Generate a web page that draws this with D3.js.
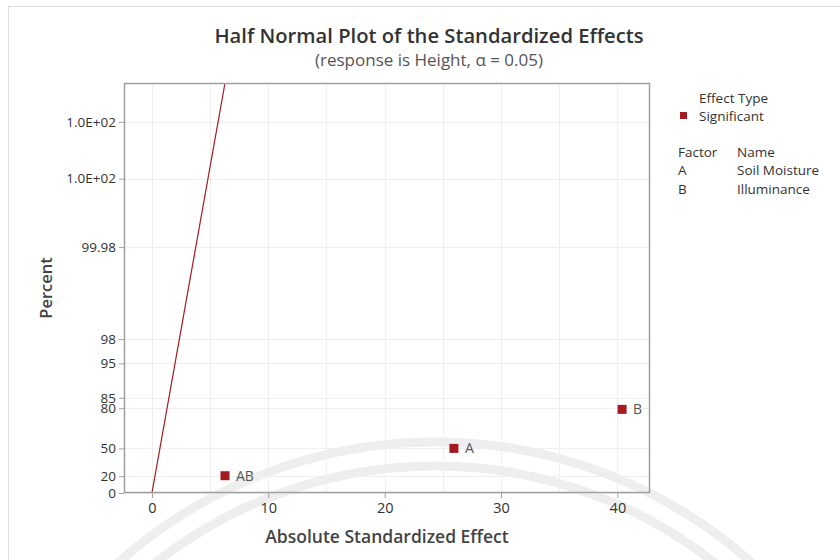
<!DOCTYPE html>
<html><head><meta charset="utf-8">
<script src="https://cdn.jsdelivr.net/npm/d3@7"></script>
<style>body{margin:0;background:#fff}svg{display:block}text{font-family:"Open Sans","Noto Sans",sans-serif}</style>
</head><body><svg id="c" width="840" height="560"></svg>
<script>
// ---- data ----
const effectNames = ["AB", "A", "B"];
const effectValues = [6.28, 25.95, 40.4];
const effectPercents = [20.6, 50, 79.4];
const pse = 1.013; // reference line slope (effect per half-normal score)
const yTickValues = [0, 20, 50, 80, 85, 95, 98, 99.98, 99.9998, 99.999998];
const yTickLabels = ["0", "20", "50", "80", "85", "95", "98", "99.98", "1.0E+02", "1.0E+02"];
const xTickValues = [0, 10, 20, 30, 40];
const xGridValues = [0, 5, 10, 15, 20, 25, 30, 35, 40];
const factorCodes = ["A", "B"];
const factorNames = ["Soil Moisture", "Illuminance"];

// inverse normal CDF (Acklam)
function qnorm(p){
  const a=[-3.969683028665376e+01,2.209460984245205e+02,-2.759285104469687e+02,1.383577518672690e+02,-3.066479806614716e+01,2.506628277459239e+00];
  const b=[-5.447609879822406e+01,1.615858368580409e+02,-1.556989798598866e+02,6.680131188771972e+01,-1.328068155288572e+01];
  const c=[-7.784894002430293e-03,-3.223964580411365e-01,-2.400758277161838e+00,-2.549732539343734e+00,4.374664141464968e+00,2.938163982698783e+00];
  const d=[7.784695709041462e-03,3.224671290700398e-01,2.445134137142996e+00,3.754408661907416e+00];
  const pl=0.02425, ph=1-pl;
  if(p<pl){const q=Math.sqrt(-2*Math.log(p));return (((((c[0]*q+c[1])*q+c[2])*q+c[3])*q+c[4])*q+c[5])/((((d[0]*q+d[1])*q+d[2])*q+d[3])*q+1);}
  if(p<=ph){const q=p-0.5,r=q*q;return (((((a[0]*r+a[1])*r+a[2])*r+a[3])*r+a[4])*r+a[5])*q/(((((b[0]*r+b[1])*r+b[2])*r+b[3])*r+b[4])*r+1);}
  const q=Math.sqrt(-2*Math.log(1-p));return -(((((c[0]*q+c[1])*q+c[2])*q+c[3])*q+c[4])*q+c[5])/((((d[0]*q+d[1])*q+d[2])*q+d[3])*q+1);
}
const hn = pct => pct <= 0 ? 0 : qnorm(0.5 + pct/200);

const svg = d3.select("#c");
const L=124, R=650, T=83, B=493;
const x = d3.scaleLinear().domain([-2.4, 42.8]).range([L, R]);
const yz = d3.scaleLinear().domain([0, 6.2]).range([B, T]);
const red = "#a31b1f", textC = "#333", axisC = "#a0a0a0";

// outer frame
svg.append("rect").attr("x",8.5).attr("y",6.5).attr("width",840).attr("height",560).attr("fill","none").attr("stroke","#dcdcdc");

// watermark arcs
const wm = svg.append("g").attr("fill","none").attr("stroke","#eeeeee").attr("stroke-width",9);
wm.append("circle").attr("cx",435).attr("cy",918).attr("r",476);
wm.append("circle").attr("cx",435).attr("cy",918).attr("r",452);

// grid
const grid = svg.append("g").attr("stroke","#efefef").attr("stroke-width",1);
grid.selectAll(".gx").data(xGridValues).join("line")
  .attr("x1",d=>Math.round(x(d))+0.5).attr("x2",d=>Math.round(x(d))+0.5).attr("y1",T).attr("y2",B);
grid.selectAll(".gy").data(yTickValues).join("line")
  .attr("y1",d=>Math.round(yz(hn(d)))+0.5).attr("y2",d=>Math.round(yz(hn(d)))+0.5).attr("x1",L).attr("x2",R);

// reference line (clipped)
svg.append("clipPath").attr("id","clip").append("rect").attr("x",L).attr("y",T).attr("width",R-L).attr("height",B-T);
const zMax = yz.domain()[1];
svg.append("line").attr("clip-path","url(#clip)")
  .attr("x1",x(0)).attr("y1",yz(0)).attr("x2",x(pse*zMax)).attr("y2",yz(zMax))
  .attr("stroke",red).attr("stroke-width",1.2);

// frame
svg.append("rect").attr("x",L+0.5).attr("y",T+0.5).attr("width",R-L-1).attr("height",B-T-1)
  .attr("fill","none").attr("stroke",axisC).attr("stroke-width",1.5);

// axes
const yAxis = svg.append("g").attr("transform",`translate(${L},0)`)
  .call(d3.axisLeft(yz).tickValues(yTickValues.map(hn)).tickFormat((d,i)=>yTickLabels[i]).tickSize(5).tickPadding(3));
const xAxis = svg.append("g").attr("transform",`translate(0,${B})`)
  .call(d3.axisBottom(x).tickValues(xTickValues).tickFormat(d3.format("d")).tickSize(5).tickPadding(5));
[yAxis,xAxis].forEach(g=>{
  g.select(".domain").remove();
  g.selectAll(".tick line").attr("stroke",axisC);
  g.selectAll(".tick text").attr("fill",textC).style("font-size","14.5px");
});
yAxis.selectAll(".tick text").style("font-size","13.5px");

// points
const pts = svg.append("g");
pts.selectAll("rect").data(effectValues).join("rect")
  .attr("x",(d)=>x(d)-4.5).attr("y",(d,i)=>yz(hn(effectPercents[i]))-4.5)
  .attr("width",9).attr("height",9).attr("fill",red);
pts.selectAll("text").data(effectNames).join("text")
  .attr("x",(d,i)=>x(effectValues[i])+11).attr("y",(d,i)=>yz(hn(effectPercents[i]))+5)
  .attr("fill","#555").style("font-size","14px").text(d=>d);

// titles
svg.append("text").attr("x",429).attr("y",43).attr("text-anchor","middle").attr("fill","#333")
  .style("font-size","20.2px").style("font-weight","600").text("Half Normal Plot of the Standardized Effects");
svg.append("text").attr("x",429).attr("y",66).attr("text-anchor","middle").attr("fill","#555")
  .style("font-size","17px").text("(response is Height, α = 0.05)");
svg.append("text").attr("x",387).attr("y",543).attr("text-anchor","middle").attr("fill","#444")
  .style("font-size","17.5px").style("font-weight","600").text("Absolute Standardized Effect");
svg.append("text").attr("transform","translate(52,288) rotate(-90)").attr("text-anchor","middle").attr("fill","#444")
  .style("font-size","16.5px").style("font-weight","600").text("Percent");

// legend
const lg = svg.append("g").attr("fill",textC).style("font-size","13.5px");
lg.append("text").attr("x",699).attr("y",103).text("Effect Type");
lg.append("rect").attr("x",680).attr("y",112).attr("width",7).attr("height",7).attr("fill",red);
lg.append("text").attr("x",699).attr("y",121).text("Significant");
lg.append("text").attr("x",678).attr("y",157).text("Factor");
lg.append("text").attr("x",737).attr("y",157).text("Name");
lg.selectAll(".fc").data(factorCodes).join("text").attr("x",678).attr("y",(d,i)=>175+i*19).text(d=>d);
lg.selectAll(".fn").data(factorNames).join("text").attr("x",737).attr("y",(d,i)=>175+i*19).text(d=>d);
</script></body></html>
